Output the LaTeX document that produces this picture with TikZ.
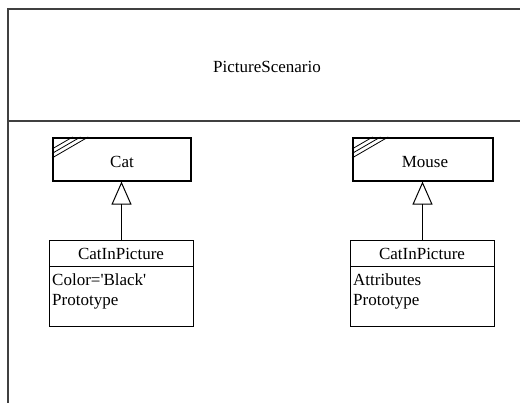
\documentclass[tikz,border=0pt]{standalone}
\usepackage{fontspec}
\setmainfont{Liberation Serif}[Ligatures=TeXOff]
\usetikzlibrary{arrows.meta,calc}
\begin{document}
\begin{tikzpicture}[x=1pt,y=-1pt,
  font=\fontsize{17}{19}\selectfont,
  classbox/.style={draw, line width=1.6pt, minimum height=43pt, inner sep=0pt, anchor=north west},
  instbox/.style={draw, line width=1pt, minimum width=144pt, minimum height=86pt, inner sep=0pt, anchor=north west},
  frameline/.style={draw=black!75, line width=1.3pt},
  inherit/.style={line width=1pt, -{Triangle[open, length=23pt, width=20pt]}},
  lbl/.style={inner sep=0pt},
  attr/.style={inner sep=0pt, anchor=west},
  hatch/.style={line width=0.8pt}]
\useasboundingbox (0,0) rectangle (520,403);
\fill[white] (0,0) rectangle (520,403);
% frame
\draw[frameline] (520,9) -- (8,9) -- (8,403);
\draw[frameline] (8,121) -- (520,121);
\node[lbl] (scen) at (267,67) {PictureScenario};
% Cat
\node[classbox, minimum width=138pt] (cat) at (52,137) {};
\node[lbl] (catlbl) at (122,162) {Cat};
\foreach \d in {12,16.5,21} {
  \draw[hatch] ($(cat.north west)+(0,\d)$) -- ($(cat.north west)+({\d/0.58},0)$);
}
% Mouse
\node[classbox, minimum width=140pt] (mouse) at (352,137) {};
\node[lbl] (mouselbl) at (425,162) {Mouse};
\foreach \d in {12,16.5,21} {
  \draw[hatch] ($(mouse.north west)+(0,\d)$) -- ($(mouse.north west)+({\d/0.58},0)$);
}
% CatInPicture 1
\node[instbox] (cip1) at (49,240) {};
\draw[line width=0.8pt] ($(cip1.north west)+(0,26)$) -- ($(cip1.north east)+(0,26)$);
\node[lbl] (cip1t) at (121,254) {CatInPicture};
\node[attr] (cip1a) at (52,280) {Color='Black'};
\node[attr] (cip1b) at (52,302) {Prototype};
% CatInPicture 2
\node[instbox] (cip2) at (350,240) {};
\draw[line width=0.8pt] ($(cip2.north west)+(0,26)$) -- ($(cip2.north east)+(0,26)$);
\node[lbl] (cip2t) at (422,254) {CatInPicture};
\node[attr] (cip2a) at (353,280) {Attributes};
\node[attr] (cip2b) at (353,302) {Prototype};
% inheritance
\draw[inherit] (cip1.north) -- (cip1.north |- cat.south);
\draw[inherit] (cip2.north) -- (cip2.north |- mouse.south);
\end{tikzpicture}
\end{document}
